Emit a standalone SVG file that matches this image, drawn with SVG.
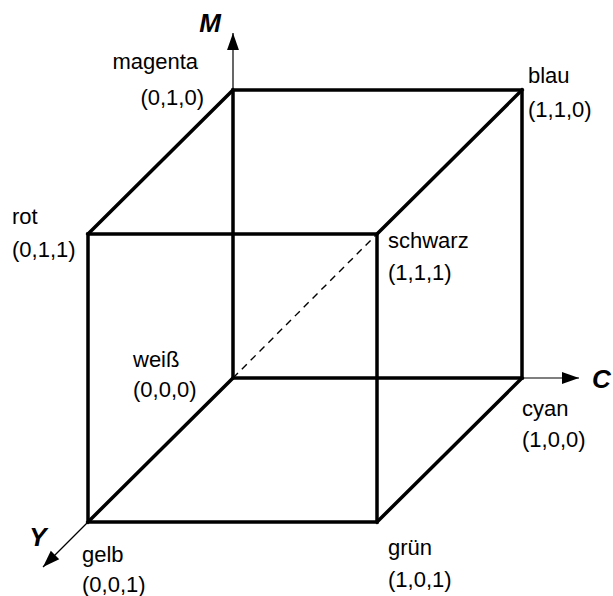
<svg xmlns="http://www.w3.org/2000/svg" width="613" height="596" viewBox="0 0 613 596">
<style>
.edge{stroke:#000;stroke-width:3.5;fill:none;stroke-linecap:square}
.axis{stroke:#000;stroke-width:1.2;fill:none}
.dash{stroke:#000;stroke-width:1.4;stroke-dasharray:7,5.5;fill:none}
.lbl{font-family:"Liberation Sans",Arial,sans-serif;font-size:22px;fill:#000}
.ax{font-family:"Liberation Sans",Arial,sans-serif;font-size:26px;font-weight:bold;font-style:italic;fill:#000}
</style>
<defs>
<marker id="arr" viewBox="0 0 10 10" refX="10" refY="5" markerWidth="17" markerHeight="17" markerUnits="userSpaceOnUse" orient="auto">
<path d="M0,1.5 L10,5 L0,8.5 Z" fill="#000"/>
</marker>
</defs>
<g id="connectors">
<line class="axis" x1="233" y1="90" x2="233" y2="33" marker-end="url(#arr)"/>
<line class="axis" x1="522" y1="378" x2="579" y2="378" marker-end="url(#arr)"/>
<line class="axis" x1="88" y1="522" x2="43" y2="567" marker-end="url(#arr)"/>
<line class="dash" x1="233" y1="378" x2="377" y2="234"/>
<path class="edge" d="M233,90 H522 V378 H233 Z M233,90 V378"/>
<path class="edge" d="M88,234 H377 V522 H88 Z"/>
<path class="edge" d="M233,90 L88,234 M522,90 L377,234 M522,378 L377,522 M233,378 L88,522"/>
</g>
<g id="axis-M"><text class="ax" x="221" y="32" text-anchor="end">M</text></g>
<g id="axis-C"><text class="ax" x="592" y="388">C</text></g>
<g id="axis-Y"><text class="ax" x="38" y="546" text-anchor="middle">Y</text></g>
<g id="magenta"><text class="lbl" x="198" y="69" text-anchor="end">magenta</text><text class="lbl" x="204" y="105" text-anchor="end">(0,1,0)</text></g>
<g id="blau"><text class="lbl" x="528" y="83">blau</text><text class="lbl" x="528" y="117">(1,1,0)</text></g>
<g id="rot"><text class="lbl" x="12" y="224">rot</text><text class="lbl" x="12" y="257">(0,1,1)</text></g>
<g id="schwarz"><text class="lbl" x="388" y="248">schwarz</text><text class="lbl" x="388" y="280">(1,1,1)</text></g>
<g id="weiss"><text class="lbl" x="133" y="367">weiß</text><text class="lbl" x="133" y="397">(0,0,0)</text></g>
<g id="cyan"><text class="lbl" x="522" y="416">cyan</text><text class="lbl" x="522" y="447">(1,0,0)</text></g>
<g id="gelb"><text class="lbl" x="82" y="562">gelb</text><text class="lbl" x="82" y="592">(0,0,1)</text></g>
<g id="gruen"><text class="lbl" x="388" y="555">grün</text><text class="lbl" x="388" y="587">(1,0,1)</text></g>
</svg>
